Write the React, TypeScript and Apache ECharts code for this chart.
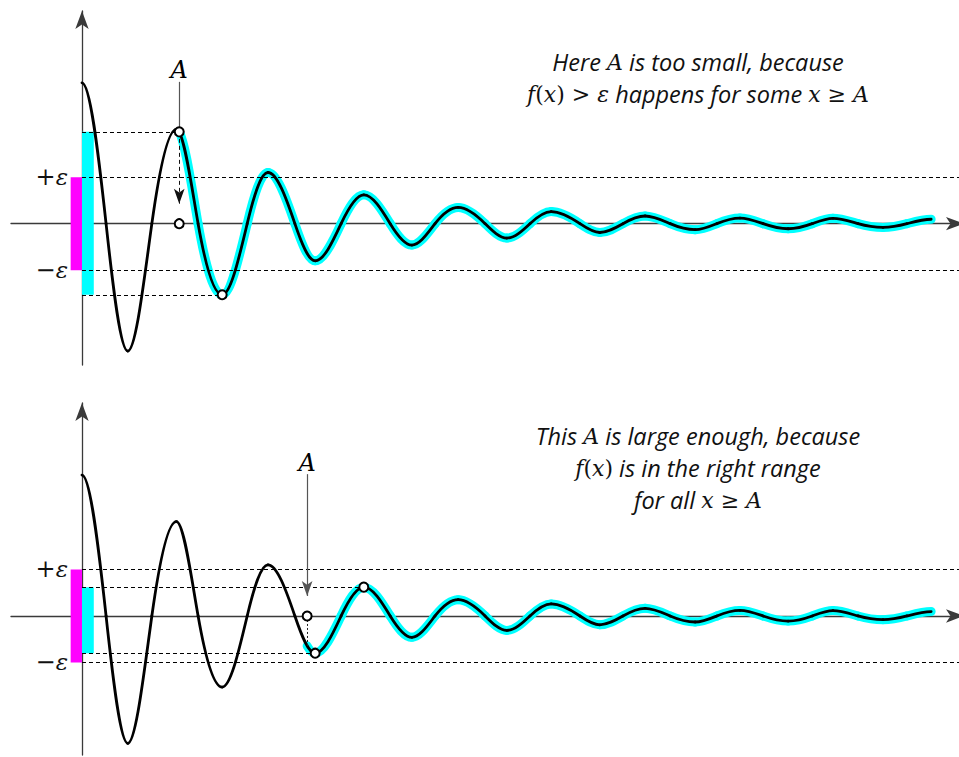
import React, { useEffect, useRef } from "react";
import * as echarts from "echarts";

// f sampled at its extrema and zero crossings: x in half-periods, y in units of ε
const curveX = [
  0, 0.51, 0.97, 1.48, 2.0, 2.46, 2.97, 3.5, 3.94, 4.51, 4.94, 5.49, 5.97, 6.53,
  6.99, 7.48, 7.97, 8.54, 9.0, 9.49, 9.94, 10.55, 10.97, 11.46, 11.93, 12.46,
  12.99, 13.45, 13.94, 14.43, 14.96, 15.47, 15.91, 16.44, 16.97, 17.48, 17.99,
];
const curveY = [
  3.03, 0, -2.74, 0, 2.03, 0, -1.53, 0, 1.1, 0, -0.8, 0, 0.62, 0, -0.46, 0,
  0.35, 0, -0.31, 0, 0.26, 0, -0.19, 0, 0.165, 0, -0.13, 0, 0.12, 0, -0.11, 0,
  0.115, 0, -0.08, 0, 0.095,
];

const epsilonLevels = [1, -1];

// A in each panel, and where sup / inf of f over [A, ∞) are reached
const aValues = [2.06, 4.77];
const infTop = [2.97, -1.53];
const supBottom = [5.97, 0.62];
const infBottom = [4.94, -0.8];

// vertical extent of the "A" pointer: label level, line start, arrow end
const pointerLevels = [3.3, 3.05, 0.43];

const X_MIN = -1.504;
const X_MAX = 18.686;
const BAR_W = 0.24;

const SERIF = "DejaVu Serif";
const SANS = "Open Sans";
const CYAN = "#00ffff";
const MAGENTA = "#ff00ff";
const AXIS = "#3a3a3a";
const INK = "#111";

type Pt = number[];
type Seg = Pt[];

// Cubic Hermite pieces through the samples: flat at the extrema,
// sine-like slope at the crossings.
function tangents(): number[] {
  const n = curveX.length;
  return curveX.map((_, i) => {
    if (i === 0 || i === n - 1 || curveY[i] !== 0) return 0;
    return (
      (Math.PI / 2) *
      ((curveY[i + 1] - curveY[i - 1]) / (curveX[i + 1] - curveX[i - 1]))
    );
  });
}

function buildSegments(): Seg[] {
  const s = tangents();
  const out: Seg[] = [];
  for (let i = 0; i < curveX.length - 1; i++) {
    const x0 = curveX[i], y0 = curveY[i];
    const x1 = curveX[i + 1], y1 = curveY[i + 1];
    const d = (x1 - x0) / 3;
    out.push([
      [x0, y0],
      [x0 + d, y0 + s[i] * d],
      [x1 - d, y1 - s[i + 1] * d],
      [x1, y1],
    ]);
  }
  return out;
}

const lerp = (a: Pt, b: Pt, t: number): Pt => [
  a[0] + (b[0] - a[0]) * t,
  a[1] + (b[1] - a[1]) * t,
];

function splitAt(seg: Seg, t: number): { point: Pt; right: Seg } {
  const [p0, p1, p2, p3] = seg;
  const a = lerp(p0, p1, t), b = lerp(p1, p2, t), c = lerp(p2, p3, t);
  const ab = lerp(a, b, t), bc = lerp(b, c, t);
  const m = lerp(ab, bc, t);
  return { point: m, right: [m, bc, c, p3] };
}

const segments = buildSegments();

// Part of the curve from x = a onwards, plus f(a)
function tailFrom(a: number): { fa: number; segs: Seg[] } {
  const k = segments.findIndex((sg) => sg[0][0] <= a && a < sg[3][0]);
  const seg = segments[k];
  let lo = 0, hi = 1;
  for (let it = 0; it < 50; it++) {
    const mid = (lo + hi) / 2;
    if (splitAt(seg, mid).point[0] < a) lo = mid;
    else hi = mid;
  }
  const { point, right } = splitAt(seg, (lo + hi) / 2);
  return { fa: point[1], segs: [right, ...segments.slice(k + 1)] };
}

function makeAxes(gridIndex: number, yMin: number, yMax: number) {
  const line = {
    show: true,
    onZero: true,
    symbol: ["none", "arrow"],
    symbolSize: [10, 18],
    lineStyle: { color: AXIS, width: 1.3 },
  };
  const common = {
    type: "value",
    gridIndex,
    axisLine: line,
    axisTick: { show: false },
    axisLabel: { show: false },
    splitLine: { show: false },
  };
  return {
    x: { ...common, min: X_MIN, max: X_MAX },
    y: { ...common, min: yMin, max: yMax },
  };
}

function curveSeries(idx: number, segs: Seg[], color: string, width: number, z: number) {
  return {
    type: "custom",
    coordinateSystem: "cartesian2d",
    xAxisIndex: idx,
    yAxisIndex: idx,
    data: segs.map((sg) => sg[0]),
    silent: true,
    z,
    renderItem: (params: any, api: any) => {
      const p = segs[params.dataIndex].map((q) => api.coord(q));
      const d =
        `M${p[0][0]},${p[0][1]} ` +
        `C${p[1][0]},${p[1][1]} ${p[2][0]},${p[2][1]} ${p[3][0]},${p[3][1]}`;
      return {
        type: "path",
        shape: { pathData: d },
        style: { fill: "none", stroke: color, lineWidth: width, lineCap: "round", lineJoin: "round" },
      };
    },
  };
}

function epsLabel(v: number) {
  return v > 0 ? "{r|+}{e|ε}" : "{r|−}{e|ε}";
}

function makePanel(idx: number, a: number, sup: Pt | null, inf: Pt, aboveCurve: boolean) {
  const tail = tailFrom(a);
  const fa = tail.fa;
  const supPt = sup || [a, fa];

  const dashed = { color: "#000", width: 1, type: [4, 3] as number[] };
  const grey = { color: "#555", width: 1.2, type: "solid" };
  const arrowEnd = { coord: [a, pointerLevels[2]], symbol: "arrow", symbolSize: [8, 15] };

  const pointer: any[] = aboveCurve
    ? [
        [{ coord: [a, pointerLevels[1]], symbol: "none", lineStyle: grey }, { coord: [a, fa], symbol: "none" }],
        [{ coord: [a, fa], symbol: "none", lineStyle: { ...dashed, color: INK } }, arrowEnd],
      ]
    : [
        [{ coord: [a, pointerLevels[1]], symbol: "none", lineStyle: grey }, arrowEnd],
        [
          { coord: [a, 0], symbol: "none", lineStyle: { color: "#222", width: 1, type: [2, 2] } },
          { coord: [a, fa], symbol: "none" },
        ],
      ];

  const markLineData: any[] = [
    ...epsilonLevels.map((v) => [
      {
        coord: [0, v],
        symbol: "none",
        lineStyle: dashed,
        label: {
          show: true,
          position: "start",
          distance: 14,
          formatter: epsLabel(v),
          rich: {
            r: { fontFamily: SERIF, fontSize: 24, color: INK },
            e: { fontFamily: SERIF, fontStyle: "italic", fontSize: 23, color: INK },
          },
        },
      },
      { coord: [X_MAX, v], symbol: "none" },
    ]),
    [{ coord: [0, supPt[1]], symbol: "none", lineStyle: dashed }, { coord: [supPt[0], supPt[1]], symbol: "none" }],
    [{ coord: [0, inf[1]], symbol: "none", lineStyle: dashed }, { coord: [inf[0], inf[1]], symbol: "none" }],
    ...pointer,
  ];

  const markAreaData: any[] = [
    [
      { coord: [-BAR_W, epsilonLevels[1]], itemStyle: { color: MAGENTA } },
      { coord: [0, epsilonLevels[0]] },
    ],
    [
      { coord: [0, inf[1]], itemStyle: { color: CYAN } },
      { coord: [BAR_W + 0.01, supPt[1]] },
    ],
  ];

  const circles = aboveCurve ? [[a, fa], [a, 0], inf] : [[a, 0], inf, supPt];

  return [
    {
      // carrier for the guide lines, the range bars and the "A" label
      type: "line",
      xAxisIndex: idx,
      yAxisIndex: idx,
      data: curveX.map((x, i) => [x, curveY[i]]),
      showSymbol: false,
      silent: true,
      z: 1,
      lineStyle: { opacity: 0 },
      markArea: { silent: true, itemStyle: { opacity: 1 }, data: markAreaData },
      markLine: {
        silent: true,
        symbol: ["none", "none"],
        label: { show: false },
        emphasis: { disabled: true },
        data: markLineData,
      },
      markPoint: {
        silent: true,
        symbol: "rect",
        symbolSize: 1,
        itemStyle: { color: "rgba(0,0,0,0)", opacity: 1 },
        label: {
          show: true,
          position: "inside",
          formatter: "A",
          fontFamily: SERIF,
          fontStyle: "italic",
          fontSize: 24,
          color: "#000",
          opacity: 1,
          textBorderWidth: 0,
        },
        data: [{ coord: [a, pointerLevels[0]] }],
      },
    },
    curveSeries(idx, tail.segs, CYAN, 9, 2),
    curveSeries(idx, segments, "#000", 2.8, 3),
    {
      type: "scatter",
      xAxisIndex: idx,
      yAxisIndex: idx,
      data: circles,
      symbol: "circle",
      symbolSize: 9,
      silent: true,
      z: 6,
      itemStyle: { color: "#fff", borderColor: "#000", borderWidth: 2, opacity: 1 },
    },
  ];
}

const richText = {
  i: { fontFamily: SANS, fontStyle: "italic", fontSize: 23.5, fill: INK },
  m: { fontFamily: SERIF, fontStyle: "italic", fontSize: 22, fill: INK },
  r: { fontFamily: SERIF, fontSize: 22, fill: INK },
};

const captionTop = [
  "{i|Here }{m|A}{i| is too small, because}",
  "{m|f}{r|(}{m|x}{r|) > }{m|ε}{i| happens for some }{m|x}{r| ≥ }{m|A}",
];
const captionBottom = [
  "{i|This }{m|A}{i| is large enough, because}",
  "{m|f}{r|(}{m|x}{r|)}{i| is in the right range}",
  "{i|for all }{m|x}{r| ≥ }{m|A}",
];

function caption(lines: string[], cx: number, y0: number, step: number) {
  return lines.map((t, k) => ({
    type: "text",
    x: cx,
    y: y0 + k * step,
    silent: true,
    style: { text: t, rich: richText, align: "center", verticalAlign: "middle" },
  }));
}

export default function App() {
  const ref = useRef<HTMLDivElement>(null);

  useEffect(() => {
    if (!ref.current) return;
    const chart = echarts.init(ref.current, null, { renderer: "svg" });
    const top = makeAxes(0, -3.04, 4.574);
    const bottom = makeAxes(1, -2.99, 4.58);
    chart.setOption({
      animation: false,
      backgroundColor: "#fff",
      grid: [
        { left: 11, top: 11, width: 953, height: 354, outerBoundsMode: "none", containLabel: false },
        { left: 11, top: 403, width: 953, height: 352, outerBoundsMode: "none", containLabel: false },
      ],
      xAxis: [top.x, bottom.x],
      yAxis: [top.y, bottom.y],
      series: [
        ...makePanel(0, aValues[0], null, infTop, true),
        ...makePanel(1, aValues[1], supBottom, infBottom, false),
      ],
      graphic: [
        ...caption(captionTop, 698, 62, 32),
        ...caption(captionBottom, 698, 436, 32),
      ],
    });
    return () => chart.dispose();
  }, []);

  return (
    <div
      ref={ref}
      style={{ position: "fixed", left: 0, top: 0, width: 959, height: 757, background: "#fff" }}
    />
  );
}
